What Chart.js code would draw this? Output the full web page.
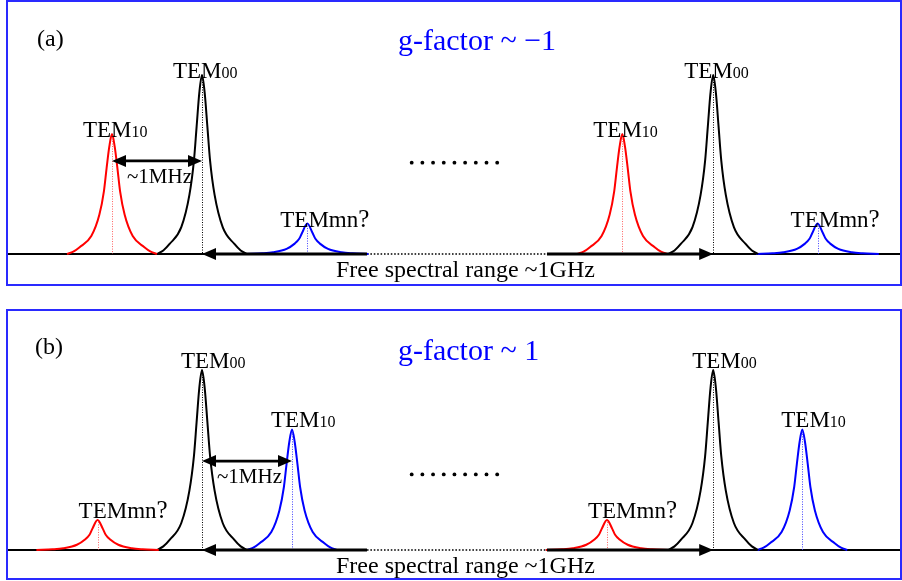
<!DOCTYPE html>
<html>
<head>
<meta charset="utf-8">
<script src="https://cdn.jsdelivr.net/npm/chart.js@4.4.1/dist/chart.umd.min.js"></script>
<style>
  html, body { margin: 0; padding: 0; background: #fff; }
  #wrap { position: relative; width: 902px; height: 581px; overflow: hidden; }
  canvas { position: absolute; left: 0; }
  #ca { top: 0; }
  #cb { top: 290px; }
</style>
</head>
<body>
<div id="wrap">
  <canvas id="ca" width="902" height="290"></canvas>
  <canvas id="cb" width="902" height="291"></canvas>
</div>
<script>
// ---------- DATA (frequency in units of the ~1 MHz mode spacing, intensity relative to TEM00) ----------
// Panel (a): g-factor ~ -1
const a_TEM10_L_x = [-1.5,-1.43,-1.36,-1.23,-1.14,-1.09,-1.06,-1.03,-1.0,-0.97,-0.94,-0.91,-0.86,-0.77,-0.64,-0.57,-0.5];
const a_TEM10_L_y = [0,0.013,0.038,0.10,0.22,0.35,0.48,0.60,0.67,0.60,0.48,0.35,0.22,0.10,0.038,0.013,0];
const a_TEM00_L_x = [-0.5,-0.43,-0.36,-0.23,-0.14,-0.09,-0.06,-0.03,0,0.03,0.06,0.09,0.14,0.23,0.36,0.43,0.5];
const a_TEM00_L_y = [0,0.02,0.056,0.15,0.33,0.52,0.71,0.9,1,0.9,0.71,0.52,0.33,0.15,0.056,0.02,0];
const a_TEMmn_L_x = [0.49,0.67,0.79,0.94,1.03,1.08,1.11,1.17,1.23,1.26,1.31,1.40,1.55,1.67,1.85];
const a_TEMmn_L_y = [0,0.004,0.010,0.029,0.058,0.085,0.116,0.17,0.116,0.085,0.058,0.029,0.010,0.004,0];
const a_TEM10_R_x = [4.17,4.24,4.31,4.44,4.53,4.58,4.61,4.64,4.67,4.70,4.73,4.76,4.81,4.90,5.03,5.10,5.17];
const a_TEM10_R_y = [0,0.013,0.038,0.10,0.22,0.35,0.48,0.60,0.67,0.60,0.48,0.35,0.22,0.10,0.038,0.013,0];
const a_TEM00_R_x = [5.18,5.25,5.32,5.45,5.54,5.59,5.62,5.65,5.68,5.71,5.74,5.77,5.82,5.91,6.04,6.11,6.18];
const a_TEM00_R_y = [0,0.02,0.056,0.15,0.33,0.52,0.71,0.9,1,0.9,0.71,0.52,0.33,0.15,0.056,0.02,0];
const a_TEMmn_R_x = [6.16,6.34,6.46,6.61,6.70,6.75,6.78,6.84,6.90,6.93,6.98,7.07,7.22,7.34,7.52];
const a_TEMmn_R_y = [0,0.004,0.010,0.029,0.058,0.085,0.116,0.17,0.116,0.085,0.058,0.029,0.010,0.004,0];

// Panel (b): g-factor ~ 1
const b_TEMmn_L_x = [-1.84,-1.66,-1.54,-1.39,-1.30,-1.25,-1.22,-1.16,-1.10,-1.07,-1.02,-0.93,-0.78,-0.66,-0.48];
const b_TEMmn_L_y = [0,0.004,0.010,0.029,0.058,0.085,0.116,0.167,0.116,0.085,0.058,0.029,0.010,0.004,0];
const b_TEM00_L_x = [-0.5,-0.43,-0.36,-0.23,-0.14,-0.09,-0.06,-0.03,0,0.03,0.06,0.09,0.14,0.23,0.36,0.43,0.5];
const b_TEM00_L_y = [0,0.02,0.056,0.15,0.33,0.52,0.71,0.9,1,0.9,0.71,0.52,0.33,0.15,0.056,0.02,0];
const b_TEM10_L_x = [0.5,0.57,0.64,0.77,0.86,0.91,0.94,0.97,1.0,1.03,1.06,1.09,1.14,1.23,1.36,1.43,1.5];
const b_TEM10_L_y = [0,0.013,0.038,0.10,0.22,0.35,0.48,0.60,0.67,0.60,0.48,0.35,0.22,0.10,0.038,0.013,0];
const b_TEMmn_R_x = [3.82,4.0,4.12,4.27,4.36,4.41,4.44,4.5,4.56,4.59,4.64,4.73,4.88,5.0,5.18];
const b_TEMmn_R_y = [0,0.004,0.010,0.029,0.058,0.085,0.116,0.167,0.116,0.085,0.058,0.029,0.010,0.004,0];
const b_TEM00_R_x = [5.18,5.25,5.32,5.45,5.54,5.59,5.62,5.65,5.68,5.71,5.74,5.77,5.82,5.91,6.04,6.11,6.18];
const b_TEM00_R_y = [0,0.02,0.056,0.15,0.33,0.52,0.71,0.9,1,0.9,0.71,0.52,0.33,0.15,0.056,0.02,0];
const b_TEM10_R_x = [6.17,6.24,6.31,6.44,6.53,6.58,6.61,6.64,6.67,6.70,6.73,6.76,6.81,6.90,7.03,7.10,7.17];
const b_TEM10_R_y = [0,0.013,0.038,0.10,0.22,0.35,0.48,0.60,0.67,0.60,0.48,0.35,0.22,0.10,0.038,0.013,0];

// Frequency axis: solid / dotted (break) / solid segments
const axisSolidLeft  = [-2.1667, 1.833];
const axisDotted     = [1.833, 3.833];
const axisSolidRight = [3.833, 7.7667];

// Annotations
const titlesA = ["(a)", "g-factor ~ \u22121"];
const titlesB = ["(b)", "g-factor ~ 1"];
const spacingLabel = "~1MHz";
const fsrLabel = "Free spectral range ~1GHz";
const spacingArrowA = [-1.0, 0.0, 0.52];   // from, to, height
const spacingArrowB = [0.0, 1.0, 0.494];
const fsrArrow = [0.0, 1.833, 3.833, 5.68]; // tipL, shaft end, shaft start, tipR
const ellipsisDots = [2.33, 3.28];          // x-range of the "........." gap marker
const ellipsisY = [0.51, 0.42];             // panel a, panel b
const dotCount = 9;

// ---------- helpers ----------
const RED = '#ff0000', BLUE = '#0000ff', BLACK = '#000000';
const SERIF = '"Liberation Serif", "Times New Roman", serif';
function pts(xs, ys) { return xs.map((x, i) => ({ x: x, y: ys[i] })); }
function peakDs(xs, ys, color, name, sub) {
  return { label: name + sub, data: pts(xs, ys), borderColor: color, borderWidth: 2,
    showLine: true, pointRadius: 0, cubicInterpolationMode: 'monotone', fill: false,
    tem: { main: name, sub: sub, color: color } };
}
function axisDs(seg, dashed) {
  return { label: 'axis', data: pts(seg, [0, 0]), borderColor: BLACK, borderWidth: dashed ? 1.6 : 2,
    borderDash: dashed ? [1.6, 1.8] : [], showLine: true, pointRadius: 0, fill: false };
}
function arrowHead(ctx, tipX, y, dir) {
  ctx.beginPath();
  ctx.moveTo(tipX, y);
  ctx.lineTo(tipX - dir * 14, y - 6);
  ctx.lineTo(tipX - dir * 14, y + 6);
  ctx.closePath();
  ctx.fill();
}

function makePlugin(p) {
  return {
    id: 'decor',
    afterDatasetsDraw(chart) {
      const ctx = chart.ctx, xs = chart.scales.x, ys = chart.scales.y;
      const y0 = ys.getPixelForValue(0);
      ctx.save();
      // dotted vertical centre lines and peak labels
      chart.data.datasets.forEach(ds => {
        if (!ds.tem) return;
        let top = ds.data[0];
        ds.data.forEach(d => { if (d.y > top.y) top = d; });
        const px = xs.getPixelForValue(top.x), py = ys.getPixelForValue(top.y);
        ctx.strokeStyle = ds.tem.color === RED ? '#ff6060' : (ds.tem.color === BLUE ? '#4040ff' : '#000');
        ctx.lineWidth = 1;
        ctx.setLineDash([1, 1.5]);
        ctx.beginPath(); ctx.moveTo(Math.round(px) + 0.5, py + 2); ctx.lineTo(Math.round(px) + 0.5, y0); ctx.stroke();
        ctx.setLineDash([]);
        ctx.fillStyle = '#000';
        ctx.textBaseline = 'alphabetic';
        let lx = px + p.labelDx, ly = py + p.labelDy;
        if (ds.tem.sub === '?') {
          ctx.font = '23px ' + SERIF;
          ctx.fillText(ds.tem.main + 'mn', lx + 2, ly);
          const w = ctx.measureText(ds.tem.main + 'mn').width;
          ctx.font = '25px ' + SERIF;
          ctx.fillText('?', lx + 2 + w, ly);
        } else {
          ctx.font = '23px ' + SERIF;
          ctx.fillText(ds.tem.main, lx, ly);
          const w = ctx.measureText(ds.tem.main).width;
          ctx.font = '16px ' + SERIF;
          ctx.fillText(ds.tem.sub, lx + w, ly);
        }
      });
      // ~1MHz double arrow
      const sa = p.spacing;
      const ax1 = xs.getPixelForValue(sa[0]), ax2 = xs.getPixelForValue(sa[1]), ay = ys.getPixelForValue(sa[2]);
      ctx.fillStyle = '#000'; ctx.strokeStyle = '#000'; ctx.lineWidth = 2.6;
      ctx.beginPath(); ctx.moveTo(ax1 + 10, ay); ctx.lineTo(ax2 - 10, ay); ctx.stroke();
      arrowHead(ctx, ax1, ay, -1); arrowHead(ctx, ax2, ay, 1);
      ctx.font = '21px ' + SERIF;
      ctx.fillText(spacingLabel, ax1 + 15, ay + 22);
      // free spectral range arrow
      const fl = xs.getPixelForValue(fsrArrow[0]), fe = xs.getPixelForValue(fsrArrow[1]);
      const fs = xs.getPixelForValue(fsrArrow[2]), fr = xs.getPixelForValue(fsrArrow[3]);
      ctx.lineWidth = 2.8;
      ctx.beginPath(); ctx.moveTo(fl + 10, y0); ctx.lineTo(fe, y0); ctx.stroke();
      ctx.beginPath(); ctx.moveTo(fs, y0); ctx.lineTo(fr - 10, y0); ctx.stroke();
      arrowHead(ctx, fl, y0, -1); arrowHead(ctx, fr, y0, 1);
      ctx.font = '24px ' + SERIF;
      ctx.fillText(fsrLabel, 336, y0 + p.fsrDy);
      // ellipsis dots
      const d1 = xs.getPixelForValue(ellipsisDots[0]), d2 = xs.getPixelForValue(ellipsisDots[1]);
      const dy = ys.getPixelForValue(p.dotsY);
      for (let i = 0; i < dotCount; i++) {
        const dx = d1 + (d2 - d1) * i / (dotCount - 1);
        ctx.beginPath(); ctx.arc(dx, dy, 1.9, 0, Math.PI * 2); ctx.fill();
      }
      // panel tag and title
      ctx.font = '24px ' + SERIF;
      ctx.fillText(p.titles[0], p.tagX, p.tagY);
      ctx.fillStyle = BLUE;
      ctx.font = '30px ' + SERIF;
      ctx.fillText(p.titles[1], 398, p.titleY);
      // panel frame
      ctx.strokeStyle = '#2a2aff'; ctx.lineWidth = 2;
      ctx.strokeRect(p.frame[0], p.frame[1], p.frame[2] - p.frame[0], p.frame[3] - p.frame[1]);
      ctx.restore();
    }
  };
}

function makeChart(id, datasets, yMin, yMax, p) {
  return new Chart(document.getElementById(id), {
    type: 'scatter',
    data: { datasets: datasets },
    options: {
      responsive: false, animation: false, devicePixelRatio: 1,
      layout: { padding: { left: 7, right: 1, top: 0, bottom: 0 } },
      plugins: { legend: { display: false }, tooltip: { enabled: false }, title: { display: false } },
      scales: {
        x: { type: 'linear', min: -2.1667, max: 7.7667, display: false },
        y: { type: 'linear', min: yMin, max: yMax, display: false }
      }
    },
    plugins: [makePlugin(p)]
  });
}

const dsA = [
  peakDs(a_TEM10_L_x, a_TEM10_L_y, RED, 'TEM', '10'),
  peakDs(a_TEM00_L_x, a_TEM00_L_y, BLACK, 'TEM', '00'),
  peakDs(a_TEMmn_L_x, a_TEMmn_L_y, BLUE, 'TEM', '?'),
  peakDs(a_TEM10_R_x, a_TEM10_R_y, RED, 'TEM', '10'),
  peakDs(a_TEM00_R_x, a_TEM00_R_y, BLACK, 'TEM', '00'),
  peakDs(a_TEMmn_R_x, a_TEMmn_R_y, BLUE, 'TEM', '?'),
  axisDs(axisSolidLeft, false), axisDs(axisDotted, true), axisDs(axisSolidRight, false)
];
const dsB = [
  peakDs(b_TEMmn_L_x, b_TEMmn_L_y, RED, 'TEM', '?'),
  peakDs(b_TEM00_L_x, b_TEM00_L_y, BLACK, 'TEM', '00'),
  peakDs(b_TEM10_L_x, b_TEM10_L_y, BLUE, 'TEM', '10'),
  peakDs(b_TEMmn_R_x, b_TEMmn_R_y, RED, 'TEM', '?'),
  peakDs(b_TEM00_R_x, b_TEM00_R_y, BLACK, 'TEM', '00'),
  peakDs(b_TEM10_R_x, b_TEM10_R_y, BLUE, 'TEM', '10'),
  axisDs(axisSolidLeft, false), axisDs(axisDotted, true), axisDs(axisSolidRight, false)
];

makeChart('ca', dsA, -0.2011, 1.419, {
  labelDx: -29, labelDy: 3, spacing: spacingArrowA, fsrDy: 23, dotsY: ellipsisY[0],
  titles: titlesA, tagX: 37, tagY: 46, titleY: 50, frame: [7, 1, 901, 285]
});
makeChart('cb', dsB, -0.1722, 1.4444, {
  labelDx: -21, labelDy: -2, spacing: spacingArrowB, fsrDy: 23, dotsY: ellipsisY[1],
  titles: titlesB, tagX: 35, tagY: 64, titleY: 70, frame: [7, 20, 901, 289]
});
</script>
</body>
</html>
